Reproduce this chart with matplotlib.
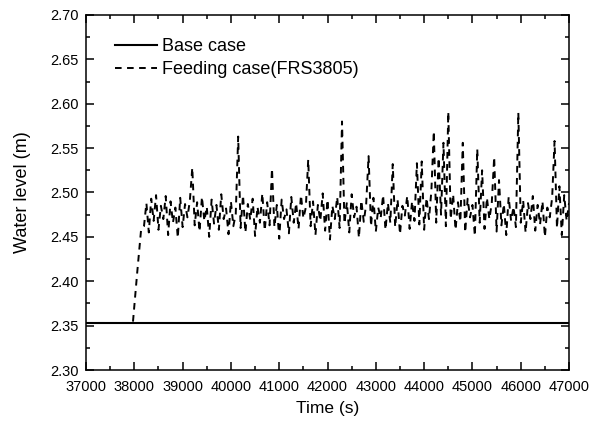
import numpy as np
import matplotlib.pyplot as plt
from matplotlib.ticker import MultipleLocator

# base case: constant water level
base_time = [37000, 47000]
base_level = [2.353, 2.353]

# feeding case: flat, then ramp-up after feeding starts
lead_time = [37000, 37970, 38060, 38140]
lead_level = [2.353, 2.353, 2.410, 2.458]

# feeding case: oscillating level sampled every 50 s from 38200 s to 47000 s
osc_start = 38200
osc_step = 50
osc_level = [
    2.462, 2.488, 2.455, 2.493, 2.468, 2.497, 2.458, 2.485, 2.470, 2.496,
    2.452, 2.490, 2.466, 2.483, 2.449, 2.494, 2.461, 2.487, 2.472, 2.491,
    2.528, 2.463, 2.489, 2.456, 2.495, 2.468, 2.484, 2.450, 2.492, 2.465,
    2.486, 2.458, 2.498, 2.470, 2.482, 2.453, 2.490, 2.462, 2.476, 2.563,
    2.460, 2.497, 2.455, 2.487, 2.469, 2.493, 2.451, 2.484, 2.466, 2.499,
    2.457, 2.489, 2.463, 2.527, 2.461, 2.486, 2.448, 2.492, 2.470, 2.481,
    2.454, 2.495, 2.466, 2.488, 2.459, 2.497, 2.471, 2.483, 2.537, 2.462,
    2.490, 2.452, 2.486, 2.468, 2.499, 2.457, 2.492, 2.447, 2.485, 2.470,
    2.495, 2.460, 2.580, 2.465, 2.489, 2.455, 2.498, 2.472, 2.484, 2.449,
    2.491, 2.467, 2.487, 2.541, 2.462, 2.494, 2.456, 2.483, 2.471, 2.497,
    2.458, 2.488, 2.466, 2.532, 2.461, 2.492, 2.453, 2.485, 2.474, 2.496,
    2.459, 2.490, 2.468, 2.533, 2.464, 2.535, 2.458, 2.494, 2.470, 2.502,
    2.569, 2.466, 2.539, 2.475, 2.556, 2.462, 2.591, 2.470, 2.498, 2.458,
    2.489, 2.467, 2.556, 2.455, 2.493, 2.472, 2.486, 2.451, 2.549, 2.466,
    2.525, 2.459, 2.494, 2.470, 2.488, 2.540, 2.456, 2.514, 2.463, 2.487,
    2.452, 2.495, 2.468, 2.484, 2.461, 2.590, 2.466, 2.491, 2.455, 2.488,
    2.470, 2.496, 2.457, 2.486, 2.464, 2.490, 2.450, 2.483, 2.472, 2.494,
    2.558, 2.460, 2.507, 2.452, 2.497, 2.468, 2.488,
]

osc_time = osc_start + osc_step * np.arange(len(osc_level))
feed_time = np.concatenate([lead_time, osc_time])
feed_level = np.concatenate([lead_level, osc_level])

plt.rcParams.update({
    "font.family": "Liberation Sans",
    "font.size": 10.5,
    "axes.linewidth": 1.1,
    "xtick.direction": "in",
    "ytick.direction": "in",
    "xtick.top": True,
    "ytick.right": True,
    "xtick.major.size": 5.5,
    "ytick.major.size": 5.5,
    "xtick.minor.size": 3,
    "ytick.minor.size": 3,
    "xtick.major.width": 1.1,
    "ytick.major.width": 1.1,
    "xtick.minor.width": 1.1,
    "ytick.minor.width": 1.1,
    "xtick.major.pad": 7.5,
    "ytick.major.pad": 5,
})

fig = plt.figure(figsize=(5.99, 4.28), dpi=100)
ax = fig.add_axes([0.1436, 0.1355, 0.8064, 0.8295])

ax.plot(base_time, base_level, color="black", lw=1.5, label="Base case")
ax.plot(feed_time, feed_level, color="black", lw=1.4,
        linestyle=(0, (3.4, 2.8)), label="Feeding case(FRS3805)")

ax.set_xlim(37000, 47000)
ax.set_ylim(2.30, 2.70)
ax.xaxis.set_major_locator(MultipleLocator(1000))
ax.xaxis.set_minor_locator(MultipleLocator(500))
ax.yaxis.set_major_locator(MultipleLocator(0.05))
ax.yaxis.set_minor_locator(MultipleLocator(0.025))
ax.yaxis.set_major_formatter(plt.FormatStrFormatter("%.2f"))

ax.set_xlabel("Time (s)", fontsize=12.5, labelpad=5)
ax.set_ylabel("Water level (m)", fontsize=13, labelpad=14)

ax.legend(loc="upper left", frameon=False, fontsize=13,
          handlelength=2.3, handletextpad=0.3, labelspacing=0.35,
          borderaxespad=0.0, bbox_to_anchor=(0.046, 0.955))

fig.savefig("out.png", dpi=100)
